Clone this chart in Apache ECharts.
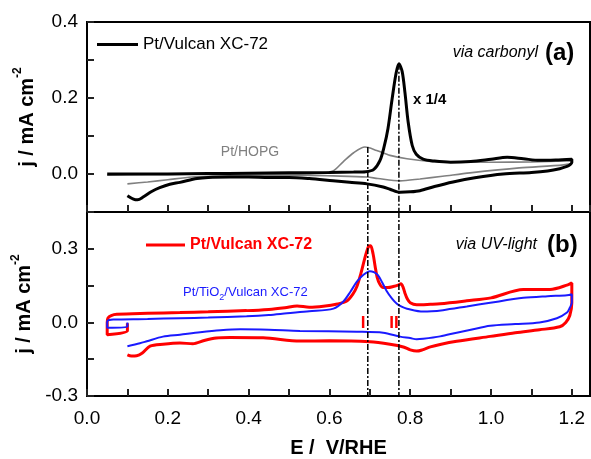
<!DOCTYPE html>
<html>
<head>
<meta charset="utf-8">
<script src="https://cdn.jsdelivr.net/npm/echarts@6/dist/echarts.min.js"></script>
<style>html,body{margin:0;padding:0;background:#fff}#c{width:591px;height:459px}</style>
</head>
<body>
<div id="c"></div>
<script>
// ---------- DATA ----------
// Panel (a): via carbonyl
const blackE = [0.05,0.1,0.2,0.3,0.4,0.5,0.6,0.66,0.69,0.71,0.725,0.735,0.745,0.755,0.765,0.772,0.78,0.787,0.795,0.805,0.815,0.832,0.86,0.9,0.95,1.0,1.04,1.08,1.12,1.16,1.2,
  1.2,1.195,1.188,1.17,1.14,1.1,1.03,0.96,0.906,0.86,0.824,0.8,0.775,0.75,0.733,0.693,0.65,0.609,0.55,0.5,0.45,0.4,0.354,0.3,0.272,0.23,0.205,0.18,0.16,0.14,0.125,0.115,0.1];
const blackJ = [0.0,0.0,0.0,0.001,0.002,0.003,0.004,0.005,0.006,0.012,0.035,0.07,0.12,0.196,0.265,0.29,0.27,0.214,0.136,0.075,0.052,0.039,0.034,0.031,0.033,0.039,0.044,0.04,0.036,0.037,0.039,
  0.03,0.024,0.02,0.014,0.008,0.004,0.0,-0.01,-0.021,-0.033,-0.044,-0.047,-0.048,-0.04,-0.034,-0.026,-0.022,-0.018,-0.012,-0.009,-0.009,-0.008,-0.008,-0.009,-0.012,-0.022,-0.027,-0.036,-0.046,-0.06,-0.068,-0.066,-0.057];
const grayE = [0.05,0.1,0.2,0.3,0.4,0.5,0.58,0.609,0.634,0.66,0.688,0.717,0.75,0.792,0.85,0.9,1.0,1.1,1.2,
  1.2,1.18,1.07,0.948,0.88,0.824,0.775,0.72,0.693,0.609,0.527,0.4,0.3,0.26,0.2,0.15,0.1];
const grayJ = [-0.003,-0.002,-0.001,0.0,0.001,0.001,0.003,0.008,0.032,0.056,0.071,0.062,0.049,0.04,0.033,0.031,0.031,0.032,0.035,
  0.03,0.024,0.016,0.003,-0.006,-0.013,-0.018,-0.012,-0.008,-0.005,-0.003,-0.004,-0.006,-0.008,-0.015,-0.021,-0.026];

// Panel (b): via UV-light
const redE = [0.1,0.1,0.05,0.05,0.052,0.06,0.074,0.15,0.23,0.3,0.395,0.45,0.49,0.52,0.55,0.585,0.62,0.643,0.658,0.668,0.678,0.689,0.697,0.702,0.708,0.713,0.718,0.725,0.733,0.745,0.758,0.77,0.777,0.782,0.787,0.793,0.8,0.816,0.85,0.874,0.94,1.0,1.08,1.146,1.19,1.2,
  1.2,1.195,1.185,1.17,1.12,1.06,0.998,0.915,0.874,0.85,0.83,0.816,0.8,0.783,0.75,0.7,0.6,0.527,0.436,0.354,0.32,0.29,0.262,0.23,0.188,0.156,0.137,0.123,0.11,0.1];
const redJ = [-0.003,-0.034,-0.05,0.0,0.018,0.028,0.033,0.037,0.04,0.043,0.048,0.053,0.06,0.067,0.062,0.066,0.075,0.087,0.115,0.146,0.2,0.27,0.31,0.312,0.28,0.23,0.185,0.155,0.142,0.142,0.146,0.152,0.158,0.145,0.119,0.095,0.08,0.072,0.074,0.076,0.088,0.1,0.134,0.134,0.153,0.161,
  0.08,0.028,0.0,-0.018,-0.03,-0.042,-0.057,-0.077,-0.09,-0.1,-0.112,-0.117,-0.112,-0.1,-0.089,-0.079,-0.075,-0.076,-0.063,-0.062,-0.064,-0.074,-0.087,-0.084,-0.089,-0.097,-0.125,-0.136,-0.137,-0.132];
const blueE = [0.1,0.1,0.05,0.05,0.055,0.065,0.15,0.23,0.3,0.395,0.45,0.495,0.55,0.61,0.634,0.652,0.668,0.685,0.7,0.71,0.72,0.73,0.742,0.755,0.767,0.78,0.792,0.832,0.881,0.94,0.998,1.08,1.14,1.188,1.2,
  1.2,1.195,1.188,1.163,1.12,1.06,0.998,0.95,0.915,0.874,0.832,0.816,0.8,0.775,0.733,0.668,0.527,0.45,0.38,0.33,0.28,0.23,0.188,0.148,0.131,0.1];
const blueJ = [0.0,-0.018,-0.022,0.004,0.01,0.012,0.014,0.017,0.02,0.025,0.03,0.037,0.045,0.056,0.084,0.125,0.166,0.195,0.209,0.205,0.193,0.165,0.127,0.097,0.076,0.063,0.056,0.044,0.05,0.065,0.08,0.1,0.107,0.111,0.115,
  0.08,0.06,0.04,0.017,0.0,-0.007,-0.014,-0.03,-0.042,-0.057,-0.067,-0.069,-0.064,-0.058,-0.042,-0.038,-0.035,-0.03,-0.028,-0.032,-0.04,-0.05,-0.058,-0.077,-0.085,-0.097];

// Peak marker lines (I and II)
const markerE = [0.695, 0.772];
const markerTopA = [0.071, 0.29];

// Axis ticks / ranges
const xTickLabels = [0.0, 0.2, 0.4, 0.6, 0.8, 1.0, 1.2];
const yTicksA = [0.0, 0.2, 0.4];
const yTicksB = [-0.3, 0.0, 0.3];

// ---------- CHART ----------
const FONT = 'Arial, "Liberation Sans", sans-serif';
const TICK = '#222222';
const zip = (a, b) => a.map((v, i) => [v, b[i]]);
const chart = echarts.init(document.getElementById('c'), null, {renderer: 'canvas'});

const X_MAX = 1.245;
function xAxis(grid, withLabels) {
  return {
    gridIndex: grid, type: 'value', min: 0, max: X_MAX, interval: 0.1,
    axisLine: {show: true, onZero: false, lineStyle: {color: '#000', width: 2}},
    axisTick: {show: true, inside: true, length: 7, lineStyle: {color: TICK, width: 2}},
    axisLabel: {show: withLabels, showMaxLabel: false, color: '#000', fontFamily: FONT, fontSize: 19, margin: 13,
      formatter: v => xTickLabels.some(t => Math.abs(t - v) < 1e-6) ? v.toFixed(1) : ''},
    splitLine: {show: false},
    name: withLabels ? 'E /  V/RHE' : '', nameLocation: 'middle', nameGap: 42,
    nameTextStyle: {color: '#000', fontFamily: FONT, fontSize: 20, fontWeight: 'bold'}
  };
}

const yName = '{b|j / mA cm}{s|-2}';
const yNameStyle = {
  color: '#000', fontFamily: FONT,
  rich: {
    b: {fontSize: 20, fontWeight: 'bold', fontFamily: FONT, color: '#000', lineHeight: 30},
    s: {fontSize: 12, fontWeight: 'bold', fontFamily: FONT, color: '#000', lineHeight: 30, verticalAlign: 'top'}
  }
};

const option = {
  animation: false,
  backgroundColor: '#fff',
  grid: [
    {left: 87, top: 22, width: 503, height: 190, show: true, borderColor: '#000', borderWidth: 2},
    {left: 87, top: 212, width: 503, height: 190, show: true, borderColor: '#000', borderWidth: 2}
  ],
  xAxis: [xAxis(0, false), xAxis(1, true)],
  yAxis: [
    {
      gridIndex: 0, type: 'value', min: -0.1, max: 0.4, interval: 0.1,
      axisLine: {show: true, onZero: false, lineStyle: {color: '#000', width: 2}},
      axisTick: {show: true, inside: true, length: 7, lineStyle: {color: TICK, width: 2}},
      axisLabel: {color: '#000', fontFamily: FONT, fontSize: 19, margin: 9,
        formatter: v => yTicksA.some(t => Math.abs(t - v) < 1e-6) ? v.toFixed(1) : ''},
      splitLine: {show: false},
      name: yName, nameLocation: 'middle', nameRotate: 90, nameGap: 45, nameTextStyle: yNameStyle
    },
    {
      gridIndex: 1, type: 'value', min: -0.3, max: 0.45, interval: 0.15,
      axisLine: {show: true, onZero: false, lineStyle: {color: '#000', width: 2}},
      axisTick: {show: true, inside: true, length: 7, lineStyle: {color: TICK, width: 2}},
      axisLabel: {color: '#000', fontFamily: FONT, fontSize: 19, margin: 9,
        formatter: v => yTicksB.some(t => Math.abs(t - v) < 1e-6) ? v.toFixed(1) : ''},
      splitLine: {show: false},
      name: yName, nameLocation: 'middle', nameRotate: 90, nameGap: 45, nameTextStyle: yNameStyle
    }
  ],
  legend: [
    {
      data: [{name: 'Pt/Vulcan XC-72', icon: 'rect'}], left: 92, top: 31,
      itemWidth: 41, itemHeight: 3, itemGap: 5, selectedMode: false,
      textStyle: {color: '#000', fontFamily: FONT, fontSize: 17}
    },
    {
      data: [{name: 'Pt/Vulcan XC-72 (UV)', icon: 'rect'}], left: 141, top: 232,
      itemWidth: 39, itemHeight: 3, itemGap: 5, selectedMode: false,
      formatter: () => 'Pt/Vulcan XC-72',
      textStyle: {color: '#ff0000', fontFamily: FONT, fontSize: 16, fontWeight: 'bold'}
    }
  ],
  graphic: [
    {type: 'text', z: 100, style: {text: 'Pt/HOPG', x: 250, y: 152, textAlign: 'center', textVerticalAlign: 'middle', fill: '#808080', font: '14px ' + FONT}},
    {type: 'text', z: 100, style: {text: 'x 1/4', x: 413, y: 100, textAlign: 'left', textVerticalAlign: 'middle', fill: '#000', font: 'bold 15px ' + FONT}},
    {type: 'text', z: 100, style: {text: 'via carbonyl', x: 538, y: 53, textAlign: 'right', textVerticalAlign: 'middle', fill: '#000', font: 'italic 16px ' + FONT}},
    {type: 'text', z: 100, style: {text: '(a)', x: 545, y: 53, textAlign: 'left', textVerticalAlign: 'middle', fill: '#000', font: 'bold 24px ' + FONT}},
    {type: 'text', z: 100, style: {text: 'via UV-light', x: 537, y: 245, textAlign: 'right', textVerticalAlign: 'middle', fill: '#000', font: 'italic 16px ' + FONT}},
    {type: 'text', z: 100, style: {text: '(b)', x: 547, y: 245, textAlign: 'left', textVerticalAlign: 'middle', fill: '#000', font: 'bold 24px ' + FONT}},
    {type: 'text', z: 100, style: {
      text: '{a|Pt/TiO}{s|2}{a|/Vulcan XC-72}', x: 183, y: 292, textAlign: 'left', textVerticalAlign: 'middle',
      rich: {
        a: {fill: '#1a1aff', fontFamily: FONT, fontSize: 13, lineHeight: 20},
        s: {fill: '#1a1aff', fontFamily: FONT, fontSize: 9, lineHeight: 20, verticalAlign: 'bottom'}
      }}},
    {type: 'text', z: 100, style: {text: 'I', x: 363, y: 323, textAlign: 'center', textVerticalAlign: 'middle', fill: '#ff0000', font: 'bold 17px ' + FONT}},
    {type: 'text', z: 100, style: {text: 'II', x: 394, y: 323, textAlign: 'center', textVerticalAlign: 'middle', fill: '#ff0000', font: 'bold 17px ' + FONT}}
  ],
  series: [
    {name: 'Pt/HOPG', type: 'line', xAxisIndex: 0, yAxisIndex: 0, data: zip(grayE, grayJ), showSymbol: false, smooth: 0.3,
      color: '#808080', lineStyle: {color: '#808080', width: 1.6}, z: 2},
    {name: 'Pt/Vulcan XC-72', type: 'line', xAxisIndex: 0, yAxisIndex: 0, data: zip(blackE, blackJ), showSymbol: false, smooth: 0.3,
      color: '#000', lineStyle: {color: '#000', width: 3}, z: 3},
    {name: 'Pt/Vulcan XC-72 (UV)', type: 'line', xAxisIndex: 1, yAxisIndex: 1, data: zip(redE, redJ), showSymbol: false, smooth: 0.3,
      color: '#ff0000', lineStyle: {color: '#ff0000', width: 3}, z: 2},
    {name: 'Pt/TiO2/Vulcan XC-72', type: 'line', xAxisIndex: 1, yAxisIndex: 1, data: zip(blueE, blueJ), showSymbol: false, smooth: 0.3,
      color: '#1a1aff', lineStyle: {color: '#1a1aff', width: 2}, z: 3}
  ].concat(
    markerE.map((e, i) => ({
      name: 'markA' + i, type: 'line', xAxisIndex: 0, yAxisIndex: 0, data: [[e, markerTopA[i]], [e, -0.1]],
      showSymbol: false, silent: true, z: 5, lineStyle: {color: '#000', width: 1.5, type: [6, 2, 2, 2]}
    })),
    markerE.map((e, i) => ({
      name: 'markB' + i, type: 'line', xAxisIndex: 1, yAxisIndex: 1, data: [[e, 0.45], [e, -0.3]],
      showSymbol: false, silent: true, z: 5, lineStyle: {color: '#000', width: 1.5, type: [6, 2, 2, 2]}
    }))
  )
};
chart.setOption(option);
</script>
</body>
</html>
